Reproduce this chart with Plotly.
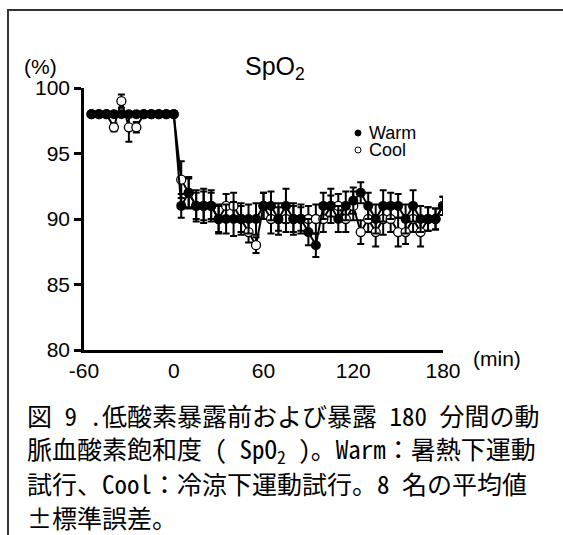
import plotly.graph_objects as go

# ---------------- data ----------------
time_min = [-55, -50, -45, -40, -35, -30, -25, -20, -15, -10, -5, 0,
            5, 10, 15, 20, 25, 30, 35, 40, 45, 50, 55, 60,
            65, 70, 75, 80, 85, 90, 95, 100, 105, 110, 115, 120,
            125, 130, 135, 140, 145, 150, 155, 160, 165, 170, 175, 180]

warm_mean = [98, 98, 98, 98, 98, 98, 98, 98, 98, 98, 98, 98,
             91, 92, 91, 91, 91, 90, 90, 90, 90, 90, 90, 91,
             91, 90, 91, 90, 90, 89, 88, 91, 91, 90, 91, 91.4,
             92, 91, 90, 91, 91, 91, 90, 91, 90, 90, 90, 91]
warm_se = [0.2, 0.2, 0.2, 0.2, 0.2, 0.2, 0.2, 0.2, 0.2, 0.2, 0.2, 0.2,
           0.9, 1.1, 1.2, 1.3, 1.2, 1.0, 1.1, 1.3, 1.0, 1.1, 1.2, 1.0,
           1.1, 1.2, 1.3, 1.0, 1.1, 1.0, 0.9, 1.0, 1.3, 1.0, 1.1, 1.0,
           0.8, 1.0, 1.1, 1.2, 1.0, 0.9, 1.1, 1.2, 1.0, 0.9, 0.8, 0.7]

cool_mean = [98, 98, 98, 97, 99, 97, 97, 98, 98, 98, 98, 98,
             93, 92, 91, 91, 91, 90, 91, 91, 90, 89, 88, 91,
             90, 90, 90, 90, 90, 90, 90, 90, 91, 91, 90, 91,
             89, 90, 89, 90, 90, 89, 89, 90, 89, 90, 90, 91]
cool_se = [0.2, 0.2, 0.2, 0.3, 0.5, 1.1, 0.4, 0.2, 0.2, 0.2, 0.2, 0.2,
           1.4, 1.2, 1.0, 1.1, 1.0, 1.1, 0.9, 1.0, 1.2, 0.8, 0.6, 1.0,
           1.1, 0.9, 1.0, 1.2, 0.9, 1.0, 1.1, 1.0, 0.8, 0.9, 1.0, 1.1,
           0.9, 1.0, 1.1, 1.2, 1.0, 1.1, 0.9, 1.0, 1.1, 0.9, 0.8, 0.7]

x_ticks = [-60, 0, 60, 120, 180]
y_ticks = [80, 85, 90, 95, 100]
series_names = ["Warm", "Cool"]

caption_lines = [
    "図 9 .低酸素暴露前および暴露 180 分間の動",
    "脈血酸素飽和度 ( SpO<sub>2</sub> )。Warm：暑熱下運動",
    "試行、Cool：冷涼下運動試行。8 名の平均値",
    "±標準誤差。",
]

# ---------------- layout geometry ----------------
W, H = 563, 535
ML, MR, MT, MB = 84, 120, 88, 185
PW = W - ML - MR
PH = H - MT - MB


def px(xp):
    return (xp - ML) / PW


def py(yp):
    return (H - MB - yp) / PH


FONT = "Liberation Sans, Arial, sans-serif"
CJK = "Noto Sans Mono CJK JP, Noto Sans CJK JP, sans-serif"

fig = go.Figure()

fig.add_trace(go.Scatter(
    x=time_min, y=cool_mean, name=series_names[1], mode="lines+markers",
    line=dict(color="black", width=2),
    marker=dict(symbol="circle", size=9, color="white",
                line=dict(color="black", width=1.3)),
    error_y=dict(type="data", array=cool_se, color="black",
                 thickness=2, width=3.5),
    showlegend=False,
))
fig.add_trace(go.Scatter(
    x=time_min, y=warm_mean, name=series_names[0], mode="lines+markers",
    line=dict(color="black", width=2),
    marker=dict(symbol="circle", size=10, color="black"),
    error_y=dict(type="data", array=warm_se, color="black",
                 thickness=2, width=3.5),
    showlegend=False,
))

fig.update_xaxes(
    range=[-60, 180], tickvals=x_ticks, ticktext=[str(v) for v in x_ticks],
    showline=True, linecolor="black", linewidth=2.5, ticks="",
    showgrid=False, zeroline=False,
    tickfont=dict(family=FONT, size=21, color="black"),
)
fig.update_yaxes(
    range=[80, 100], tickvals=y_ticks, ticktext=[str(v) for v in y_ticks],
    showline=True, linecolor="black", linewidth=2.5,
    ticks="outside", ticklen=7, tickwidth=2.5, tickcolor="black",
    showgrid=False, zeroline=False,
    tickfont=dict(family=FONT, size=21, color="black"),
)

annotations = [
    dict(text="(%)", x=px(40), y=py(67), font=dict(family=FONT, size=21)),
    dict(text="SpO<sub>2</sub>", x=px(275), y=py(68), font=dict(family=FONT, size=25)),
    dict(text="(min)", x=px(497), y=py(358), font=dict(family=FONT, size=21)),
    dict(text=series_names[0], x=px(367), y=py(133), xanchor="left",
         font=dict(family=FONT, size=18)),
    dict(text=series_names[1], x=px(367), y=py(150), xanchor="left",
         font=dict(family=FONT, size=18)),
]
for i, line in enumerate(caption_lines):
    annotations.append(dict(text=line, x=px(25), y=py(415 + 34 * i),
                            xanchor="left", font=dict(family=CJK, size=25)))
for a in annotations:
    a.setdefault("xanchor", "center")
    a.update(xref="paper", yref="paper", showarrow=False, yanchor="middle")
    a["font"]["color"] = "black"

shapes = [
    # outer frame (right/bottom edges lie outside the visible page)
    dict(type="rect", xref="paper", yref="paper",
         x0=px(8), x1=px(580), y0=py(10), y1=py(560),
         line=dict(color="#333333", width=2)),
    # legend glyphs
    dict(type="circle", xref="paper", yref="paper", xsizemode="pixel",
         ysizemode="pixel", xanchor=px(358), yanchor=py(133),
         x0=-3, x1=3, y0=-3, y1=3, fillcolor="black",
         line=dict(color="black", width=1)),
    dict(type="circle", xref="paper", yref="paper", xsizemode="pixel",
         ysizemode="pixel", xanchor=px(358), yanchor=py(150),
         x0=-3, x1=3, y0=-3, y1=3, fillcolor="white",
         line=dict(color="black", width=1)),
]

fig.update_layout(
    width=W, height=H, autosize=False,
    margin=dict(l=ML, r=MR, t=MT, b=MB, pad=0),
    paper_bgcolor="white", plot_bgcolor="white",
    annotations=annotations, shapes=shapes,
    font=dict(family=FONT, color="black"),
)

fig.write_html("out.html")
